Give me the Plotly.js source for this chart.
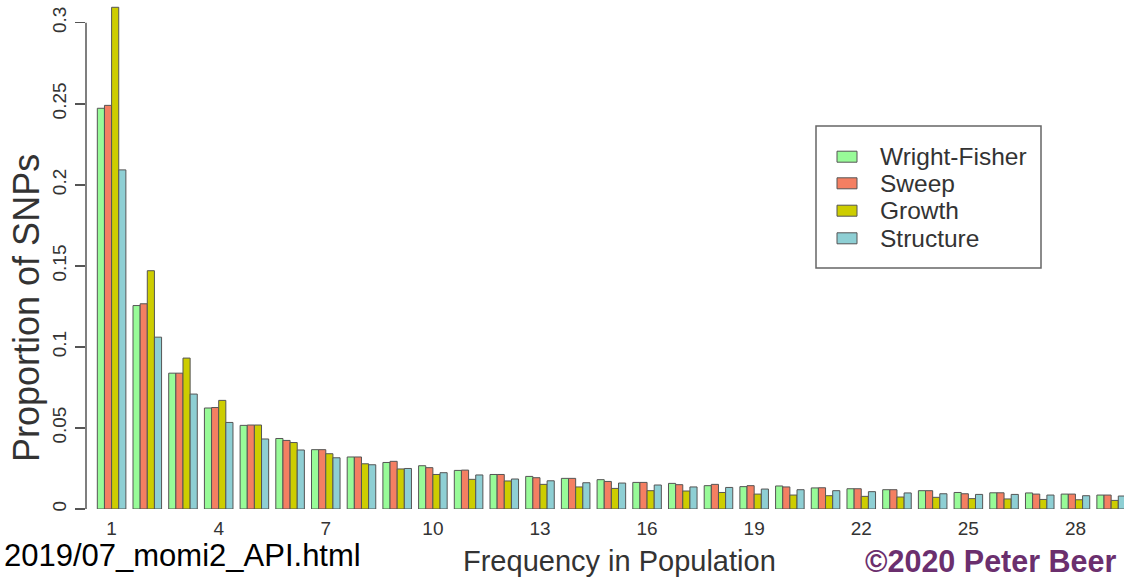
<!DOCTYPE html>
<html>
<head>
<meta charset="utf-8">
<script src="https://cdn.plot.ly/plotly-3.0.1.min.js"></script>
<style>
  html, body { margin: 0; padding: 0; background: #ffffff; }
  #chart { width: 1124px; height: 577px; }
</style>
</head>
<body>
<div id="chart"></div>
<script>
// ---- data ----
const frequency = [1,2,3,4,5,6,7,8,9,10,11,12,13,14,15,16,17,18,19,20,21,22,23,24,25,26,27,28,29];
const seriesNames = ["Wright-Fisher", "Sweep", "Growth", "Structure"];
const wrightFisher = [0.2472,0.1255,0.0838,0.0623,0.0516,0.0435,0.0366,0.0321,0.0287,0.0267,0.0238,0.0213,0.0201,0.0189,0.0181,0.0164,0.0158,0.0144,0.0138,0.0142,0.0130,0.0125,0.0119,0.0113,0.0102,0.0100,0.0099,0.0092,0.0086];
const sweep        = [0.2490,0.1266,0.0838,0.0626,0.0518,0.0423,0.0366,0.0321,0.0294,0.0255,0.0240,0.0213,0.0193,0.0189,0.0170,0.0164,0.0150,0.0152,0.0144,0.0136,0.0131,0.0125,0.0119,0.0113,0.0094,0.0100,0.0092,0.0092,0.0086];
const growth       = [0.3095,0.1470,0.0931,0.0670,0.0518,0.0410,0.0341,0.0279,0.0247,0.0213,0.0183,0.0173,0.0152,0.0136,0.0127,0.0113,0.0111,0.0102,0.0092,0.0086,0.0082,0.0078,0.0074,0.0072,0.0064,0.0062,0.0059,0.0057,0.0053];
const structure    = [0.2092,0.1060,0.0709,0.0534,0.0432,0.0364,0.0316,0.0273,0.0250,0.0224,0.0210,0.0185,0.0174,0.0162,0.0160,0.0148,0.0136,0.0133,0.0123,0.0119,0.0113,0.0107,0.0099,0.0094,0.0090,0.0090,0.0086,0.0082,0.0080];
const xTickVals = [1,4,7,10,13,16,19,22,25,28];
const yTickVals = [0,0.05,0.1,0.15,0.2,0.25,0.3];
const yTickText = ["0","0.05","0.1","0.15","0.2","0.25","0.3"];
const xTitle = "Frequency in Population";
const yTitle = "Proportion of SNPs";
const leftNote = "2019/07_momi2_API.html";
const rightNote = "©2020 Peter Beer";

// ---- styling ----
const colors = ["#98fb98", "#f47f62", "#cdcd00", "#8ecfd4"];
const seriesValues = [wrightFisher, sweep, growth, structure];
const FONT = "Liberation Sans, Arial, Helvetica, sans-serif";
const W = 1124, H = 577;
const M = { l: 86, r: 0, t: 0, b: 68 };
const plotW = W - M.l - M.r, plotH = H - M.t - M.b;
const px2x = px => (px - M.l) / plotW;
const px2y = py => (H - M.b - py) / plotH;

const traces = seriesNames.map((name, i) => ({
  type: "bar",
  name: name,
  x: frequency,
  y: seriesValues[i],
  marker: { color: colors[i], line: { color: "#555555", width: 1 } },
  showlegend: false,
  hoverinfo: "x+y+name"
}));

// manual R-style legend
const legendShapes = [{
  type: "rect", xref: "paper", yref: "paper",
  x0: px2x(816), x1: px2x(1041), y0: px2y(126), y1: px2y(268),
  line: { color: "#666666", width: 1.5 }, fillcolor: "rgba(255,255,255,0)"
}];
const legendAnn = [];
const rowY = [156.7, 183.3, 210.7, 238.3];
seriesNames.forEach((name, i) => {
  legendShapes.push({
    type: "rect", xref: "paper", yref: "paper",
    x0: px2x(837), x1: px2x(857), y0: px2y(rowY[i] - 5.5), y1: px2y(rowY[i] + 5.5),
    line: { color: "#555555", width: 1 }, fillcolor: colors[i]
  });
  legendAnn.push({
    xref: "paper", yref: "paper", x: px2x(878), y: px2y(rowY[i]),
    xanchor: "left", yanchor: "middle", showarrow: false, text: name,
    font: { family: FONT, size: 24.5, color: "#333333" }
  });
});

// R-style y axis line only spanning the tick range
const axisShape = {
  type: "line", xref: "paper", yref: "y",
  x0: 0, x1: 0, y0: yTickVals[0], y1: yTickVals[yTickVals.length - 1],
  line: { color: "#555555", width: 1.5 }
};

const layout = {
  width: W, height: H,
  margin: M,
  paper_bgcolor: "#ffffff", plot_bgcolor: "#ffffff",
  barmode: "group", bargap: 0.2, bargroupgap: 0,
  font: { family: FONT, color: "#333333" },
  xaxis: {
    range: [0.283, 29.36],
    tickmode: "array", tickvals: xTickVals, ticktext: xTickVals.map(String),
    ticks: "", showline: false, showgrid: false, zeroline: false,
    tickfont: { family: FONT, size: 19, color: "#333333" },
    ticklabelstandoff: 6
  },
  yaxis: {
    range: [0, 0.3140],
    tickmode: "array", tickvals: yTickVals, ticktext: yTickText,
    ticks: "outside", ticklen: 10, tickwidth: 1.5, tickcolor: "#555555",
    tickangle: -90,
    showline: false, showgrid: false, zeroline: false,
    tickfont: { family: FONT, size: 19, color: "#333333" },
    ticklabelstandoff: 1
  },
  shapes: [axisShape].concat(legendShapes),
  annotations: [
    { xref: "paper", yref: "paper", x: px2x(27), y: px2y(308), textangle: -90,
      xanchor: "center", yanchor: "middle", showarrow: false, text: yTitle,
      font: { family: FONT, size: 36, color: "#333333" } },
    { xref: "paper", yref: "paper", x: px2x(619), y: px2y(561),
      xanchor: "center", yanchor: "middle", showarrow: false, text: xTitle,
      font: { family: FONT, size: 29, color: "#333333" } },
    { xref: "paper", yref: "paper", x: px2x(2), y: px2y(555),
      xanchor: "left", yanchor: "middle", showarrow: false, text: leftNote,
      font: { family: FONT, size: 31, color: "#000000" } },
    { xref: "paper", yref: "paper", x: px2x(1119), y: px2y(561),
      xanchor: "right", yanchor: "middle", showarrow: false, text: "<b>" + rightNote + "</b>",
      font: { family: FONT, size: 30.5, color: "#6b2f6e" } }
  ].concat(legendAnn)
};

Plotly.newPlot("chart", traces, layout, { displayModeBar: false, staticPlot: true });
</script>
</body>
</html>
